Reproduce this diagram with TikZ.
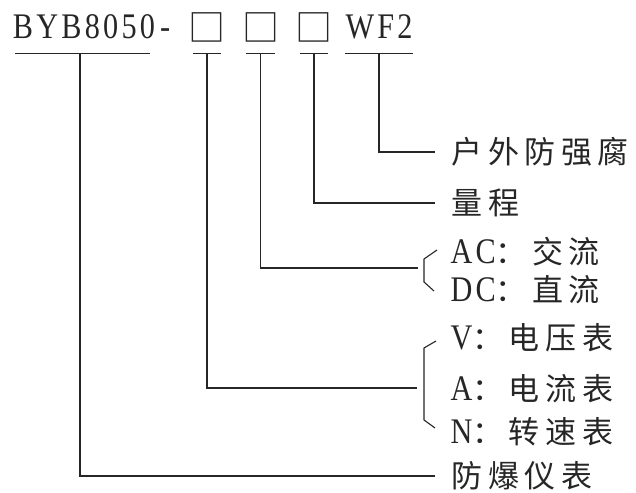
\documentclass[tikz,border=0pt]{standalone}
\usepackage{fontspec}
\setmainfont{Liberation Serif}
\newfontfamily\latinfont[FakeStretch=0.84,LetterSpace=9]{Liberation Serif}
\newfontfamily\cjkfont[LetterSpace=18]{Noto Sans CJK SC}
\newfontfamily\boxfont{Noto Sans CJK SC}
\usetikzlibrary{positioning}
\newcommand{\latpart}[1]{{\latinfont\fontsize{36bp}{40bp}\selectfont #1}}

\begin{document}
\begin{tikzpicture}[x=1bp,y=-1bp,line width=1.1bp,color=black!85,
                    node distance=53.5bp]
  \tikzstyle{code part}=[inner sep=0pt,text height=25bp,text depth=14bp,
                         font=\latinfont\fontsize{36bp}{40bp}\selectfont]
  \tikzstyle{blank box}=[inner sep=0pt,text height=28bp,text depth=11bp,
                         font=\boxfont\fontsize{37bp}{40bp}\selectfont]
  \tikzstyle{meaning}=[anchor=west,inner sep=0pt,
                       font=\cjkfont\fontsize{31bp}{35bp}\selectfont]
  \useasboundingbox (0,0) rectangle (636,493);

  \node[code part] (model) at (84,33.5) {BYB8050};
  \node[code part,anchor=west] (dash) at ([xshift=4bp]model.east) {-};
  \node[blank box] (b1) at (207,33.5) {□};
  \node[blank box] (b2) [right of=b1] {□};
  \node[blank box] (b3) [right of=b2] {□};
  \node[code part] (wf) [right of=b3,node distance=65bp] {WF2};

  \node[meaning] (ext) at (451,152) {户外防强腐};
  \node[meaning] (rng) at (451,203) {量程};
  \node[meaning] (ac)  at (450,252) {\latpart{AC}：交流};
  \node[meaning] (dc)  at (450,290) {\latpart{DC}：直流};
  \node[meaning] (vm)  at (450,338) {\latpart{V}：电压表};
  \node[meaning] (am)  at (450,389) {\latpart{A}：电流表};
  \node[meaning] (nm)  at (450,432) {\latpart{N}：转速表};
  \node[meaning] (exp) at (451,476) {防爆仪表};

  \coordinate (acdc) at (418,268);
  \coordinate (van)  at (417,388);

  \draw[shorten <=3bp,shorten >=6bp] (model.south west) -- (model.south east);
  \draw (wf.south west) -- (wf.south east);
  \foreach \n in {b1,b2,b3}
    \draw[shorten <=5bp,shorten >=5bp] (\n.south west) -- (\n.south east);

  \draw[shorten >=16bp] (wf.south) |- (ext.west);
  \draw[shorten >=16bp] (b3.south) |- (rng.west);
  \draw (b2.south) |- (acdc);
  \draw (b1.south) |- (van);
  \draw[shorten >=16bp] ([xshift=-4bp]model.south) |- (exp.west);

  \draw ([xshift=-13bp,yshift=2bp]ac.west) -- ++(-13,9) -- ++(0,23) -- ++(10,9);
  \draw ([xshift=-14bp,yshift=-3bp]vm.west) -- ++(-12,7) -- ++(0,72)
        -- ([xshift=-15bp,yshift=4bp]nm.west);
\end{tikzpicture}
\end{document}
